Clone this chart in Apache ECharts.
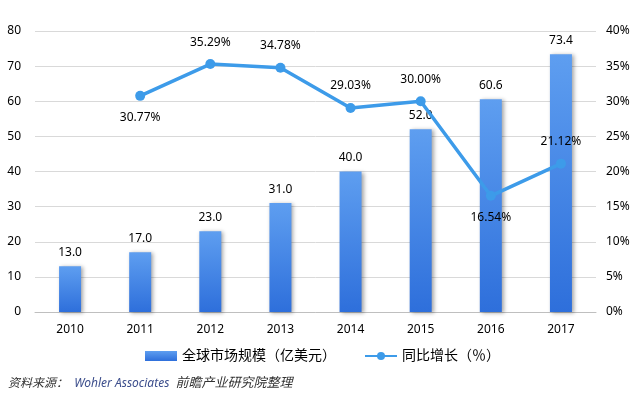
<!DOCTYPE html>
<html><head><meta charset="utf-8">
<script src="https://cdn.jsdelivr.net/npm/echarts@6/dist/echarts.min.js"></script>
<style>html,body{margin:0;padding:0;background:#fff}#c{width:642px;height:404px}</style>
</head><body><div id="c"></div>
<script>
const years = ['2010','2011','2012','2013','2014','2015','2016','2017'];
const marketSize = [13.0, 17.0, 23.0, 31.0, 40.0, 52.0, 60.6, 73.4];
const growth = [null, 30.77, 35.29, 34.78, 29.03, 30.00, 16.54, 21.12];
const growthLabelPos = ['top','bottom','top','top','top','top','bottom','top'];
const leftTicks = [0, 10, 20, 30, 40, 50, 60, 70, 80];
const rightTicks = [0, 5, 10, 15, 20, 25, 30, 35, 40];

const font = '"Noto Sans", "Noto Sans CJK SC", sans-serif';
const chart = echarts.init(document.getElementById('c'));
chart.setOption({
  animation: false,
  textStyle: {fontFamily: font},
  grid: {left: 35, right: 46, top: 31, bottom: 92},
  legend: {
    bottom: 36, left: 140, itemGap: 28, itemWidth: 32, itemHeight: 10,
    textStyle: {fontSize: 14, color: '#000', fontFamily: font},
    data: [{name: '全球市场规模（亿美元）', icon: 'rect'}, {name: '同比增长（％）'}]
  },
  graphic: [{
    type: 'text', left: 8, top: 377,
    style: {
      text: '{a|资料来源：}{b|  Wohler Associates  }{c|前瞻产业研究院整理}',
      rich: {
        a: {fontSize: 12, fontStyle: 'italic', fill: '#333', fontFamily: font},
        b: {fontSize: 12, fontStyle: 'italic', fill: '#3c4e8c', fontFamily: font},
        c: {fontSize: 13, fontStyle: 'italic', fill: '#333', fontFamily: font}
      }
    }
  }],
  xAxis: {
    type: 'category', data: years,
    axisLine: {lineStyle: {color: '#bfbfbf'}},
    axisTick: {show: false},
    axisLabel: {color: '#000', fontSize: 12, margin: 12}
  },
  yAxis: [{
    type: 'value', min: leftTicks[0], max: leftTicks[leftTicks.length-1], interval: 10,
    axisLine: {show: false}, axisTick: {show: false},
    axisLabel: {color: '#000', fontSize: 12, margin: 14},
    splitLine: {lineStyle: {color: '#d9d9d9'}}
  }, {
    type: 'value', min: rightTicks[0], max: rightTicks[rightTicks.length-1], interval: 5,
    axisLine: {show: false}, axisTick: {show: false},
    axisLabel: {color: '#000', fontSize: 12, margin: 10, formatter: '{value}%'},
    splitLine: {show: false}
  }],
  series: [{
    name: '全球市场规模（亿美元）', type: 'bar', barWidth: 22, yAxisIndex: 0,
    data: marketSize,
    itemStyle: {
      color: new echarts.graphic.LinearGradient(0,0,0,1,[{offset:0,color:'#5e9ef0'},{offset:1,color:'#2e6fdb'}]),
      shadowColor: 'rgba(0,0,0,0.35)', shadowBlur: 4, shadowOffsetX: 2, shadowOffsetY: 1
    },
    label: {show: true, position: 'top', distance: 8, color: '#000', fontSize: 12,
      formatter: p => p.value.toFixed(1)}
  }, {
    name: '同比增长（％）', type: 'line', yAxisIndex: 1,
    data: growth.map((v,i) => v === null ? null : {value: v, label: {position: growthLabelPos[i]}}),
    lineStyle: {color: '#3d9be9', width: 3.5},
    itemStyle: {color: '#3d9be9'},
    symbol: 'circle', symbolSize: 10,
    label: {show: true, color: '#000', fontSize: 12, distance: 11,
      formatter: p => p.value.toFixed(2) + '%'}
  }]
});
</script></body></html>
